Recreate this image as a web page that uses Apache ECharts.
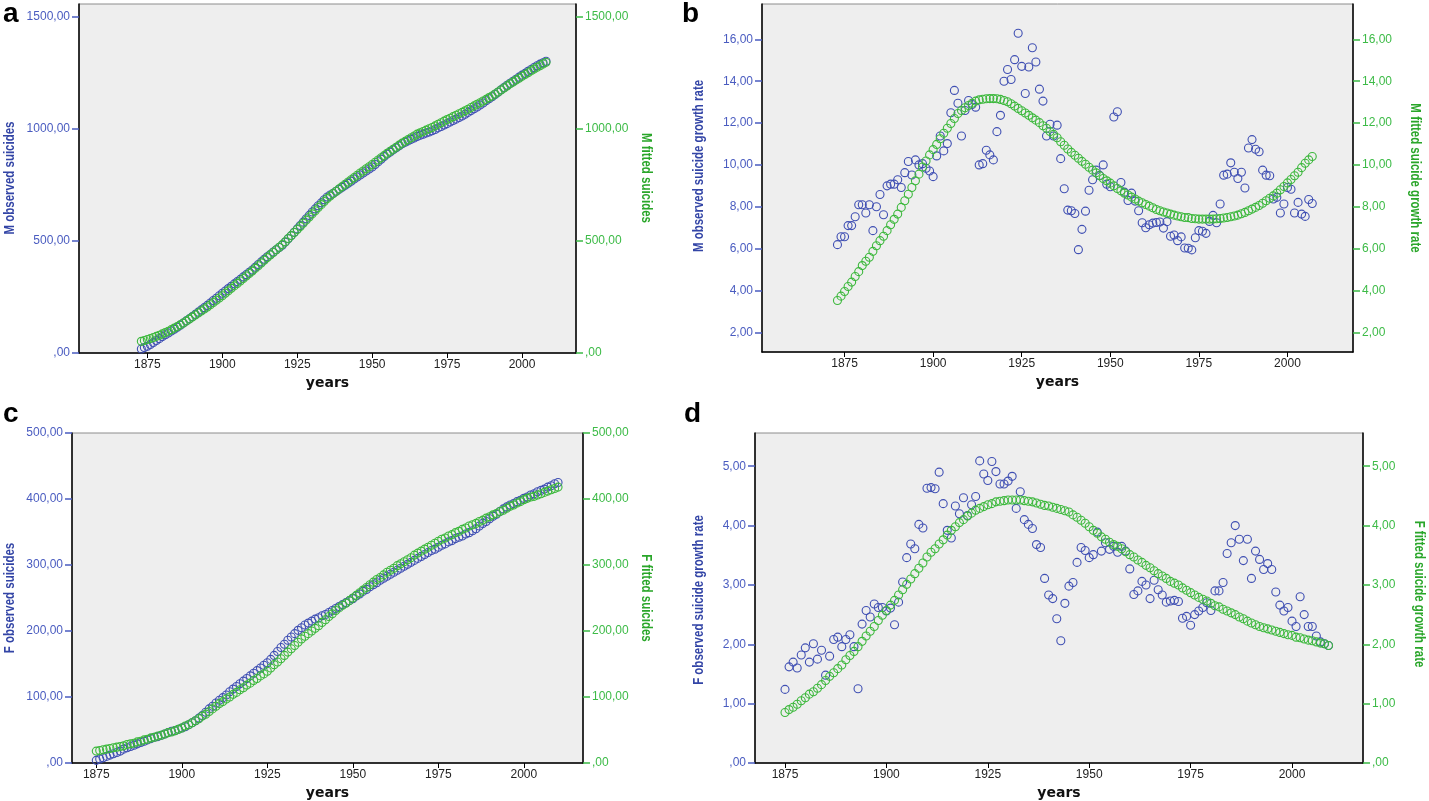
<!DOCTYPE html>
<html>
<head>
<meta charset="utf-8">
<title>Observed and fitted suicides</title>
<script src="https://cdn.jsdelivr.net/npm/echarts@6/dist/echarts.min.js"></script>
<style>
  html, body { margin: 0; padding: 0; background: #fff; }
  #main { width: 1429px; height: 801px; }
</style>
</head>
<body>
<div id="main"></div>
<script>
// panel a: male cumulative suicides, 1873-2008
var maleObsCum = [
  18, 24, 30, 38, 47, 56, 64, 73, 81, 89,
  98, 106, 115, 124, 133, 143, 152, 162, 172, 182,
  192, 202, 212, 223, 234, 244, 255, 266, 276, 287,
  297, 308, 318, 328, 339, 349, 360, 370, 382, 394,
  406, 418, 429, 439, 450, 460, 470, 480, 494, 509,
  523, 538, 553, 568, 583, 598, 613, 628, 642, 656,
  669, 683, 695, 704, 712, 721, 729, 738, 747, 756,
  765, 775, 784, 793, 802, 811, 820, 829, 840, 852,
  863, 875, 886, 895, 905, 914, 923, 932, 939, 945,
  952, 958, 965, 970, 975, 980, 985, 990, 996, 1003,
  1009, 1016, 1022, 1029, 1036, 1042, 1049, 1056, 1064, 1072,
  1080, 1088, 1096, 1105, 1114, 1124, 1133, 1142, 1152, 1162,
  1173, 1183, 1193, 1202, 1211, 1220, 1229, 1238, 1246, 1255,
  1263, 1272, 1280, 1287, 1293, 1300
];
var maleFitCum = [
  52, 56, 60, 64, 69, 74, 79, 85, 91, 97,
  104, 111, 118, 126, 134, 142, 151, 160, 169, 178,
  187, 196, 205, 215, 225, 235, 245, 255, 266, 277,
  288, 299, 310, 321, 332, 343, 354, 365, 377, 389,
  401, 413, 425, 437, 448, 460, 471, 483, 496, 510,
  523, 537, 550, 564, 578, 592, 606, 620, 634, 648,
  661, 675, 688, 699, 710, 721, 732, 742, 752, 762,
  772, 782, 792, 802, 811, 821, 830, 840, 850, 860,
  870, 880, 890, 899, 908, 917, 926, 935, 943, 951,
  959, 967, 975, 981, 987, 993, 999, 1005, 1012, 1019,
  1026, 1033, 1040, 1046, 1053, 1059, 1066, 1072, 1079, 1086,
  1094, 1101, 1108, 1115, 1123, 1130, 1138, 1145, 1154, 1163,
  1172, 1181, 1190, 1199, 1207, 1216, 1224, 1233, 1241, 1249,
  1257, 1265, 1273, 1280, 1288, 1295
];

// panel b: male suicide growth rate, 1873-2007
var maleObsRate = [
  6.19, 6.57, 6.57, 7.10, 7.10, 7.52, 8.10, 8.10, 7.70, 8.10,
  6.86, 8.00, 8.59, 7.62, 9.00, 9.08, 9.08, 9.29, 8.92, 9.63,
  10.16, 9.52, 10.24, 10.00, 10.06, 9.84, 9.71, 9.44, 10.43, 11.38,
  10.67, 11.02, 12.49, 13.56, 12.95, 11.38, 12.60, 13.08, 12.89, 12.76,
  10.00, 10.06, 10.70, 10.48, 10.24, 11.59, 12.37, 14.00, 14.56, 14.08,
  15.03, 16.29, 14.71, 13.41, 14.68, 15.60, 14.92, 13.62, 13.05, 11.38,
  11.94, 11.38, 11.90, 10.30, 8.86, 7.84, 7.81, 7.68, 5.95, 6.92,
  7.79, 8.79, 9.29, 9.75, 9.50, 10.00, 9.08, 8.96, 12.29, 12.54,
  9.16, 8.70, 8.30, 8.65, 8.27, 7.81, 7.24, 7.00, 7.14, 7.22,
  7.25, 7.27, 6.98, 7.29, 6.59, 6.65, 6.38, 6.56, 6.03, 6.02,
  5.94, 6.52, 6.86, 6.83, 6.73, 7.30, 7.59, 7.24, 8.13, 9.51,
  9.56, 10.10, 9.65, 9.35, 9.65, 8.90, 10.81, 11.21, 10.75, 10.63,
  9.75, 9.51, 9.48, 8.37, 8.45, 7.70, 8.13, 8.92, 8.84, 7.70,
  8.21, 7.65, 7.54, 8.35, 8.16
];
var maleFitRate = [
  3.52, 3.73, 3.95, 4.19, 4.40, 4.67, 4.90, 5.19, 5.40, 5.59,
  5.87, 6.14, 6.38, 6.59, 6.86, 7.14, 7.40, 7.65, 7.97, 8.29,
  8.60, 8.92, 9.24, 9.56, 9.90, 10.19, 10.48, 10.73, 10.98, 11.25,
  11.51, 11.75, 11.98, 12.22, 12.46, 12.60, 12.73, 12.84, 12.95, 13.05,
  13.11, 13.14, 13.16, 13.17, 13.17, 13.16, 13.13, 13.08, 13.02, 12.92,
  12.81, 12.70, 12.59, 12.48, 12.37, 12.25, 12.14, 12.02, 11.87, 11.75,
  11.60, 11.46, 11.30, 11.11, 10.94, 10.76, 10.60, 10.46, 10.32, 10.17,
  10.03, 9.89, 9.75, 9.62, 9.48, 9.35, 9.24, 9.13, 9.00, 8.87,
  8.76, 8.65, 8.56, 8.46, 8.37, 8.27, 8.19, 8.11, 8.03, 7.95,
  7.87, 7.81, 7.75, 7.70, 7.65, 7.60, 7.56, 7.52, 7.49, 7.48,
  7.44, 7.43, 7.41, 7.41, 7.41, 7.41, 7.41, 7.43, 7.44, 7.46,
  7.49, 7.52, 7.56, 7.60, 7.67, 7.73, 7.81, 7.89, 7.97, 8.06,
  8.17, 8.29, 8.41, 8.52, 8.65, 8.81, 8.97, 9.14, 9.30, 9.48,
  9.65, 9.87, 10.08, 10.24, 10.40
];

// panel c: female cumulative suicides, 1875-2010
var femObsCum = [
  4, 6, 8, 10, 12, 14, 16, 18, 21, 23,
  25, 27, 29, 31, 33, 35, 37, 39, 40, 42,
  44, 46, 48, 49, 51, 53, 55, 58, 61, 64,
  68, 72, 77, 82, 86, 91, 95, 99, 103, 108,
  112, 116, 120, 124, 128, 132, 136, 140, 144, 148,
  152, 157, 163, 169, 175, 180, 186, 191, 196, 201,
  205, 209, 212, 215, 218, 220, 223, 225, 228, 231,
  234, 237, 240, 243, 246, 249, 253, 256, 260, 263,
  267, 270, 273, 277, 280, 283, 286, 289, 292, 295,
  298, 301, 304, 307, 310, 313, 316, 319, 322, 324,
  327, 330, 332, 335, 337, 340, 342, 344, 347, 349,
  352, 355, 359, 363, 366, 370, 374, 377, 381, 385,
  388, 391, 393, 396, 398, 401, 403, 406, 408, 411,
  413, 415, 418, 420, 423, 425
];
var femFitCum = [
  18, 19, 20, 21, 22, 23, 24, 25, 26, 28,
  29, 30, 32, 33, 35, 36, 38, 39, 41, 42,
  44, 46, 47, 49, 51, 53, 56, 58, 61, 64,
  67, 71, 74, 78, 82, 86, 90, 93, 97, 100,
  104, 107, 111, 114, 118, 121, 125, 128, 132, 135,
  139, 144, 149, 153, 158, 163, 168, 173, 178, 183,
  188, 192, 196, 200, 204, 208, 213, 217, 222, 226,
  231, 235, 239, 242, 246, 250, 254, 258, 262, 266,
  270, 274, 278, 281, 285, 289, 292, 295, 299, 302,
  305, 308, 311, 315, 318, 321, 324, 327, 330, 333,
  336, 339, 341, 344, 346, 349, 351, 354, 356, 359,
  361, 363, 366, 368, 371, 373, 376, 378, 381, 383,
  386, 389, 391, 394, 396, 399, 401, 403, 404, 406,
  408, 410, 412, 414, 416, 418
];

// panel d: female suicide growth rate, 1875-2009
var femObsRate = [
  1.24, 1.62, 1.70, 1.60, 1.82, 1.94, 1.70, 2.01, 1.75, 1.90,
  1.48, 1.80, 2.08, 2.12, 1.96, 2.08, 2.16, 1.96, 1.25, 2.34,
  2.57, 2.46, 2.68, 2.62, 2.62, 2.56, 2.61, 2.33, 2.71, 3.05,
  3.46, 3.69, 3.61, 4.02, 3.96, 4.63, 4.64, 4.62, 4.90, 4.37,
  3.92, 3.79, 4.33, 4.20, 4.47, 4.17, 4.35, 4.49, 5.09, 4.87,
  4.76, 5.08, 4.91, 4.70, 4.70, 4.75, 4.83, 4.29, 4.57, 4.10,
  4.02, 3.95, 3.68, 3.63, 3.11, 2.83, 2.77, 2.43, 2.06, 2.69,
  2.98, 3.04, 3.38, 3.63, 3.58, 3.46, 3.51, 3.89, 3.57, 3.71,
  3.60, 3.65, 3.55, 3.65, 3.57, 3.27, 2.84, 2.90, 3.06, 3.00,
  2.77, 3.08, 2.92, 2.83, 2.71, 2.73, 2.74, 2.72, 2.44, 2.47,
  2.32, 2.50, 2.56, 2.62, 2.70, 2.57, 2.90, 2.90, 3.04, 3.53,
  3.71, 4.00, 3.77, 3.41, 3.77, 3.11, 3.57, 3.43, 3.26, 3.36,
  3.26, 2.88, 2.66, 2.56, 2.62, 2.39, 2.30, 2.80, 2.50, 2.30,
  2.30, 2.14, 2.04, 2.01, 1.98
];
var femFitRate = [
  0.85, 0.90, 0.94, 0.99, 1.05, 1.10, 1.16, 1.20, 1.26, 1.32,
  1.39, 1.46, 1.52, 1.59, 1.65, 1.74, 1.81, 1.88, 1.96, 2.05,
  2.14, 2.22, 2.30, 2.40, 2.49, 2.57, 2.66, 2.74, 2.83, 2.92,
  3.01, 3.10, 3.19, 3.28, 3.37, 3.47, 3.55, 3.61, 3.69, 3.76,
  3.84, 3.92, 3.98, 4.05, 4.10, 4.16, 4.21, 4.26, 4.29, 4.32,
  4.35, 4.37, 4.40, 4.41, 4.42, 4.43, 4.43, 4.43, 4.43, 4.42,
  4.41, 4.40, 4.38, 4.36, 4.34, 4.33, 4.31, 4.29, 4.27, 4.25,
  4.23, 4.18, 4.14, 4.09, 4.04, 3.98, 3.92, 3.87, 3.81, 3.77,
  3.72, 3.68, 3.65, 3.61, 3.56, 3.51, 3.47, 3.42, 3.38, 3.33,
  3.29, 3.24, 3.19, 3.15, 3.11, 3.06, 3.03, 3.00, 2.95, 2.91,
  2.87, 2.83, 2.79, 2.76, 2.73, 2.69, 2.65, 2.63, 2.59, 2.56,
  2.53, 2.50, 2.46, 2.43, 2.39, 2.36, 2.33, 2.30, 2.28, 2.26,
  2.24, 2.22, 2.20, 2.18, 2.16, 2.15, 2.12, 2.11, 2.09, 2.07,
  2.06, 2.04, 2.02, 2.01, 1.98
];

// first year of each series
var startMaleCum = 1873, startMaleRate = 1873, startFemCum = 1875, startFemRate = 1875;

// tick labels
var yearTicks = [1875, 1900, 1925, 1950, 1975, 2000];
var ticksMaleCum = [0, 500, 1000, 1500];
var ticksMaleRate = [2, 4, 6, 8, 10, 12, 14, 16];
var ticksFemCum = [0, 100, 200, 300, 400, 500];
var ticksFemRate = [0, 1, 2, 3, 4, 5];

var BLUE = '#3f4fb3';
var BLUE_TXT = '#4a5cc0';
var BLUE_TITLE = '#3345a6';
var GREEN = '#3cb83c';
var GREEN_TXT = '#3dbb47';
var GREEN_TITLE = '#2aa62a';

function pairs(start, vals) {
  return vals.map(function (v, i) { return [start + i, v]; });
}

function commaFmt(v) {
  if (v === 0) return ',00';
  return v.toFixed(2).replace('.', ',');
}

function xAxisFor(grid, min, max) {
  return {
    gridIndex: grid, type: 'value', min: min, max: max,
    axisLine: { onZero: false, lineStyle: { color: '#000', width: 1.5 } },
    axisTick: { customValues: yearTicks, length: 5, lineStyle: { color: '#000' } },
    axisLabel: { customValues: yearTicks, color: '#222', fontSize: 12, margin: 6,
      formatter: function (v) { return String(v); },
      fontFamily: 'Liberation Sans, Arial, sans-serif' },
    splitLine: { show: false },
    name: 'years', nameLocation: 'middle', nameGap: 23,
    nameTextStyle: { color: '#111', fontWeight: 'bold', fontSize: 14, fontFamily: 'DejaVu Sans' }
  };
}

function yAxisFor(grid, side, min, max, ticks) {
  var left = side === 'left';
  return {
    gridIndex: grid, type: 'value', position: side, min: min, max: max,
    axisLine: { show: true, onZero: false, lineStyle: { color: '#000', width: 1.5 } },
    axisTick: { show: true, customValues: ticks, length: 7,
      lineStyle: { color: left ? BLUE_TXT : GREEN_TXT, width: 1.5 } },
    axisLabel: { customValues: ticks, formatter: commaFmt, fontSize: 12, margin: 9,
      color: left ? BLUE_TXT : GREEN_TXT, fontFamily: 'Liberation Sans, Arial, sans-serif' },
    splitLine: { show: false }
  };
}

// vertical axis titles, drawn narrow like the original condensed font
function axisTitle(text, x, y, left) {
  return {
    type: 'text', x: x, y: y, rotation: left ? Math.PI / 2 : -Math.PI / 2, scaleX: 0.82,
    style: { text: text, font: 'bold 14px Liberation Sans, Arial, sans-serif',
      fill: left ? BLUE_TITLE : GREEN_TITLE, align: 'center', verticalAlign: 'middle' }
  };
}

function panelLetter(text, x, y) {
  return { type: 'text', x: x, y: y,
    style: { text: text, font: 'bold 28px Liberation Sans, Arial, sans-serif', fill: '#000' } };
}

function dots(xi, yi, data, color) {
  return {
    type: 'scatter', xAxisIndex: xi, yAxisIndex: yi, data: data,
    symbol: 'circle', symbolSize: 8, silent: true,
    itemStyle: { color: 'rgba(0,0,0,0)', borderColor: color, borderWidth: 1.1, opacity: 1 }
  };
}

var gridStyle = { show: true, backgroundColor: '#eeeeee', borderColor: '#8c8c8c', borderWidth: 1 };

var chart = echarts.init(document.getElementById('main'));
chart.setOption({
  animation: false,
  backgroundColor: '#fff',
  textStyle: { fontFamily: 'Liberation Sans, Arial, sans-serif' },
  grid: [
    Object.assign({ left: 79, top: 4, width: 497, height: 349 }, gridStyle),
    Object.assign({ left: 762, top: 4, width: 591, height: 348 }, gridStyle),
    Object.assign({ left: 72, top: 433, width: 511, height: 330 }, gridStyle),
    Object.assign({ left: 755, top: 433, width: 608, height: 330 }, gridStyle)
  ],
  xAxis: [
    xAxisFor(0, 1852.2, 2018),
    xAxisFor(1, 1851.7, 2018.5),
    xAxisFor(2, 1867.9, 2017.3),
    xAxisFor(3, 1867.6, 2017.5)
  ],
  yAxis: [
    yAxisFor(0, 'left', 0, 1555, ticksMaleCum),
    yAxisFor(0, 'right', 0, 1555, ticksMaleCum),
    yAxisFor(1, 'left', 1.06, 17.69, ticksMaleRate),
    yAxisFor(1, 'right', 1.06, 17.69, ticksMaleRate),
    yAxisFor(2, 'left', 0, 500, ticksFemCum),
    yAxisFor(2, 'right', 0, 500, ticksFemCum),
    yAxisFor(3, 'left', 0, 5.56, ticksFemRate),
    yAxisFor(3, 'right', 0, 5.56, ticksFemRate)
  ],
  graphic: [
    panelLetter('a', 3, 0),
    panelLetter('b', 682, 0),
    panelLetter('c', 3, 400),
    panelLetter('d', 684, 400),
    axisTitle('M observed suicides', 10, 178, true),
    axisTitle('M fitted suicides', 646, 178, false),
    axisTitle('M observed suicide growth rate', 699, 166, true),
    axisTitle('M fitted suicide growth rate', 1415, 178, false),
    axisTitle('F observed suicides', 10, 598, true),
    axisTitle('F fitted suicides', 646, 598, false),
    axisTitle('F observed suicide growth rate', 699, 600, true),
    axisTitle('F fitted suicide growth rate', 1419, 594, false)
  ],
  series: [
    dots(0, 0, pairs(startMaleCum, maleObsCum), BLUE),
    dots(0, 1, pairs(startMaleCum, maleFitCum), GREEN),
    dots(1, 2, pairs(startMaleRate, maleObsRate), BLUE),
    dots(1, 3, pairs(startMaleRate, maleFitRate), GREEN),
    dots(2, 4, pairs(startFemCum, femObsCum), BLUE),
    dots(2, 5, pairs(startFemCum, femFitCum), GREEN),
    dots(3, 6, pairs(startFemRate, femObsRate), BLUE),
    dots(3, 7, pairs(startFemRate, femFitRate), GREEN)
  ]
});
</script>
</body>
</html>
